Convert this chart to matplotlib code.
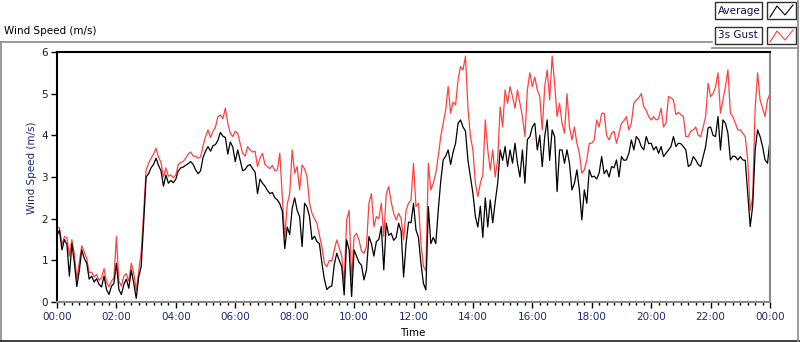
import numpy as np
import matplotlib
matplotlib.use("Agg")
import matplotlib.pyplot as plt
from matplotlib.patches import Rectangle
from matplotlib.lines import Line2D
from matplotlib.ticker import MultipleLocator, FuncFormatter

# 5 minute samples, one row per hour (12 values), last value is 24:00
avg_speed = [
    1.60, 1.72, 1.25, 1.50, 1.38, 0.62, 1.40, 0.95, 0.37, 0.75, 1.25, 1.05,
    0.93, 0.55, 0.62, 0.48, 0.56, 0.42, 0.36, 0.62, 0.30, 0.18, 0.38, 0.45,
    0.93, 0.30, 0.18, 0.42, 0.55, 0.33, 0.77, 0.45, 0.09, 0.60, 0.85, 1.90,
    3.00, 3.08, 3.22, 3.30, 3.45, 3.28, 3.15, 2.78, 3.05, 2.85, 2.92, 2.86,
    2.95, 3.15, 3.22, 3.24, 3.28, 3.32, 3.37, 3.30, 3.17, 3.08, 3.15, 3.47,
    3.62, 3.73, 3.62, 3.75, 3.78, 3.88, 4.07, 3.98, 3.95, 3.55, 3.84, 3.72,
    3.37, 3.65, 3.40, 3.15, 3.18, 3.27, 3.30, 3.20, 3.12, 2.60, 2.95, 2.85,
    2.78, 2.68, 2.60, 2.63, 2.50, 2.45, 2.36, 2.18, 1.28, 1.80, 1.62, 2.25,
    2.50, 2.20, 2.05, 1.33, 2.37, 2.28, 2.05, 1.50, 1.58, 1.45, 1.40, 0.93,
    0.55, 0.30, 0.36, 0.38, 0.90, 1.17, 1.00, 0.85, 0.17, 1.49, 1.25, 0.13,
    1.25, 1.10, 0.95, 0.88, 0.53, 0.77, 1.57, 1.40, 1.10, 1.45, 1.50, 1.81,
    0.77, 1.89, 1.60, 1.65, 1.48, 1.55, 1.89, 1.70, 0.60, 1.40, 1.92, 1.90,
    2.37, 1.73, 1.55, 0.93, 0.45, 0.29, 2.29, 1.40, 1.55, 1.40, 2.20, 2.90,
    3.41, 3.50, 3.65, 3.30, 3.60, 3.81, 4.29, 4.37, 4.20, 4.10, 3.40, 3.00,
    2.61, 2.05, 1.80, 2.30, 1.55, 2.50, 1.80, 2.45, 1.90, 2.40, 2.85, 3.65,
    3.40, 3.73, 3.25, 3.65, 3.33, 3.81, 3.33, 3.00, 3.65, 2.85, 3.90, 3.97,
    4.20, 4.29, 3.65, 4.00, 3.25, 3.97, 4.37, 3.40, 4.13, 3.97, 2.65, 3.65,
    3.65, 3.33, 3.65, 3.33, 2.69, 2.85, 3.17, 2.69, 1.97, 2.69, 2.37, 3.17,
    3.00, 3.02, 2.95, 3.10, 3.49, 3.08, 3.17, 3.00, 3.25, 3.22, 3.41, 3.00,
    3.49, 3.40, 3.41, 3.57, 3.89, 3.65, 3.97, 3.90, 3.73, 3.65, 3.97, 3.80,
    3.81, 3.65, 3.73, 3.57, 3.73, 3.49, 3.57, 3.65, 3.73, 3.97, 3.73, 3.81,
    3.80, 3.73, 3.65, 3.25, 3.30, 3.49, 3.41, 3.30, 3.25, 3.49, 3.73, 4.18,
    4.20, 4.00, 3.97, 4.45, 3.65, 4.37, 4.29, 4.05, 3.41, 3.50, 3.49, 3.41,
    3.49, 3.41, 3.40, 2.60, 1.81, 2.30, 3.65, 4.13, 3.97, 3.73, 3.41, 3.33,
    3.90,
]

gust_speed = [
    1.80, 1.78, 1.38, 1.57, 1.55, 1.10, 1.50, 1.15, 0.55, 0.95, 1.35, 1.20,
    1.05, 0.70, 0.72, 0.60, 0.66, 0.52, 0.58, 0.80, 0.48, 0.37, 0.50, 0.58,
    1.57, 0.50, 0.38, 0.62, 0.68, 0.50, 0.93, 0.70, 0.28, 0.75, 1.20, 2.15,
    3.17, 3.33, 3.45, 3.55, 3.69, 3.48, 3.35, 3.00, 3.22, 3.02, 3.05, 2.98,
    3.05, 3.30, 3.35, 3.37, 3.45, 3.55, 3.60, 3.50, 3.50, 3.45, 3.48, 3.75,
    3.97, 4.13, 3.95, 4.09, 4.20, 4.45, 4.49, 4.40, 4.65, 4.29, 4.05, 3.97,
    4.10, 4.05, 3.80, 3.57, 3.50, 3.73, 3.65, 3.60, 3.62, 3.25, 3.45, 3.57,
    3.30, 3.25, 3.20, 3.28, 3.15, 3.17, 3.57, 2.53, 1.55, 2.35, 2.60, 3.65,
    3.09, 3.25, 2.69, 3.29, 3.20, 3.00, 2.37, 2.13, 2.00, 1.89, 1.60, 1.33,
    0.93, 0.85, 1.00, 0.98, 1.25, 1.49, 1.30, 1.10, 0.45, 1.97, 2.20, 0.53,
    1.57, 1.65, 1.49, 1.22, 1.17, 1.33, 2.37, 2.60, 1.81, 2.05, 2.00, 2.37,
    1.57, 2.60, 2.77, 2.40, 2.13, 1.97, 2.13, 2.00, 1.49, 2.20, 2.37, 2.45,
    3.33, 2.29, 2.37, 1.41, 0.85, 0.75, 3.33, 2.69, 2.85, 3.09, 3.50, 3.97,
    4.29, 4.61, 5.17, 4.53, 4.80, 4.73, 5.33, 5.65, 5.57, 5.90, 4.65, 3.97,
    3.65, 2.85, 2.53, 2.85, 3.05, 4.37, 3.65, 3.17, 3.65, 3.00, 3.41, 4.68,
    4.20, 5.09, 4.77, 5.17, 4.93, 4.65, 5.09, 4.77, 4.45, 3.97, 5.09, 5.50,
    5.17, 5.40, 5.09, 4.93, 4.13, 5.17, 5.57, 4.85, 5.90, 5.25, 4.45, 4.77,
    4.29, 4.05, 5.00, 4.20, 3.89, 4.20, 3.81, 3.57, 3.09, 3.17, 3.41, 3.81,
    3.81, 3.89, 4.37, 4.20, 4.53, 4.53, 4.00, 3.89, 4.05, 4.10, 3.81, 4.05,
    4.29, 4.35, 4.45, 4.13, 4.29, 4.77, 4.85, 4.90, 5.00, 4.69, 4.60, 4.45,
    4.37, 4.45, 4.37, 4.40, 4.65, 4.20, 4.30, 4.93, 4.90, 4.85, 4.50, 4.55,
    4.50, 4.45, 3.97, 3.97, 4.10, 4.13, 4.20, 4.00, 3.97, 4.20, 4.45, 5.25,
    4.93, 5.00, 5.17, 5.50, 4.53, 4.85, 5.17, 5.57, 4.53, 4.45, 4.29, 4.13,
    4.13, 4.05, 3.97, 3.40, 2.20, 2.50, 4.65, 5.50, 4.85, 4.65, 4.45, 4.85,
    5.00,
]

series_names = ["Average", "3s Gust"]
series_colors = ["black", "#ff4040"]

W, H = 800, 342


def fpos(x, y):
    # pixel coords (origin top-left) -> figure fraction
    return x / W, 1 - y / H


def main():
    hours = np.arange(len(avg_speed)) * 5 / 60.0

    fig = plt.figure(figsize=(W / 100, H / 100), dpi=100)
    fig.patch.set_facecolor("white")

    # outer panel frame
    fig.add_artist(Line2D([0, 712 / W], [1 - 41.5 / H] * 2, transform=fig.transFigure, color="#8a8a8a", lw=1.2))
    fig.add_artist(Line2D([0.6 / W] * 2, [1 - 41.5 / H, 0], transform=fig.transFigure, color="#8a8a8a", lw=1.2))
    fig.add_artist(Line2D([0, 1], [1 - 340.5 / H] * 2, transform=fig.transFigure, color="#202020", lw=1.2))
    fig.add_artist(Line2D([798 / W] * 2, [1, 1 - 340.5 / H], transform=fig.transFigure, color="#8a8a8a", lw=1.2))
    fig.add_artist(Line2D([712 / W, 798 / W], [1 - 48 / H] * 2, transform=fig.transFigure, color="#8a8a8a", lw=1.2))

    x0, y0 = fpos(57, 302)
    x1, y1 = fpos(770, 52)
    ax = fig.add_axes([x0, y0, x1 - x0, y1 - y0])

    ax.plot(hours, gust_speed, color=series_colors[1], lw=0.9)
    ax.plot(hours, avg_speed, color=series_colors[0], lw=0.9)

    ax.set_xlim(0, 24)
    ax.set_ylim(0, 6)

    ax.spines["top"].set_color("black")
    ax.spines["left"].set_color("black")
    ax.spines["top"].set_linewidth(1.5)
    ax.spines["left"].set_linewidth(1.5)
    ax.spines["right"].set_color("#8a8a8a")
    ax.spines["bottom"].set_color("#8a8a8a")
    ax.spines["right"].set_linewidth(1.5)
    ax.spines["bottom"].set_linewidth(1.5)

    ax.xaxis.set_major_locator(MultipleLocator(2))
    ax.xaxis.set_minor_locator(MultipleLocator(0.25))
    ax.xaxis.set_major_formatter(FuncFormatter(lambda v, p: f"{int(round(v)) % 24:02d}:00"))
    ax.yaxis.set_major_locator(MultipleLocator(1))

    ax.tick_params(axis="x", which="major", direction="out", length=4.5, width=1, pad=3,
                   labelsize=7.5, labelcolor="#1c2a6e")
    ax.tick_params(axis="x", which="minor", direction="out", length=2.5, width=1)
    ax.tick_params(axis="y", which="major", direction="out", length=4.5, width=1, pad=2,
                   labelsize=7.5, labelcolor="#202020")

    fig.text(*fpos(413, 333), "Time", ha="center", va="center", fontsize=7.5, color="black")
    fig.text(*fpos(32, 168), "Wind Speed (m/s)", ha="center", va="center", rotation=90,
             fontsize=7.5, color="#1c2a6e")
    fig.text(*fpos(4, 31), "Wind Speed (m/s)", ha="left", va="center", fontsize=7.5, color="black")

    # legend boxes, LabVIEW style
    for i, name in enumerate(series_names):
        top = 2 + i * 25
        bx, by = fpos(715, top + 17)
        fig.add_artist(Rectangle((bx, by), 47 / W, 17 / H, transform=fig.transFigure,
                                 facecolor="white", edgecolor="#303030", lw=1))
        fig.text(*fpos(718, top + 8.5), name, ha="left", va="center", fontsize=7.5, color="#101040")
        gx, gy = fpos(767, top + 17)
        fig.add_artist(Rectangle((gx, gy), 29 / W, 17 / H, transform=fig.transFigure,
                                 facecolor="white", edgecolor="#303030", lw=1))
        zx = [770, 777, 785, 793]
        zy = [top + 15, top + 4, top + 13, top + 3]
        pts = [fpos(a, b) for a, b in zip(zx, zy)]
        fig.add_artist(Line2D([p[0] for p in pts], [p[1] for p in pts], transform=fig.transFigure,
                              color=series_colors[i], lw=0.8))

    fig.savefig("out.png", dpi=100)


if __name__ == "__main__":
    main()
